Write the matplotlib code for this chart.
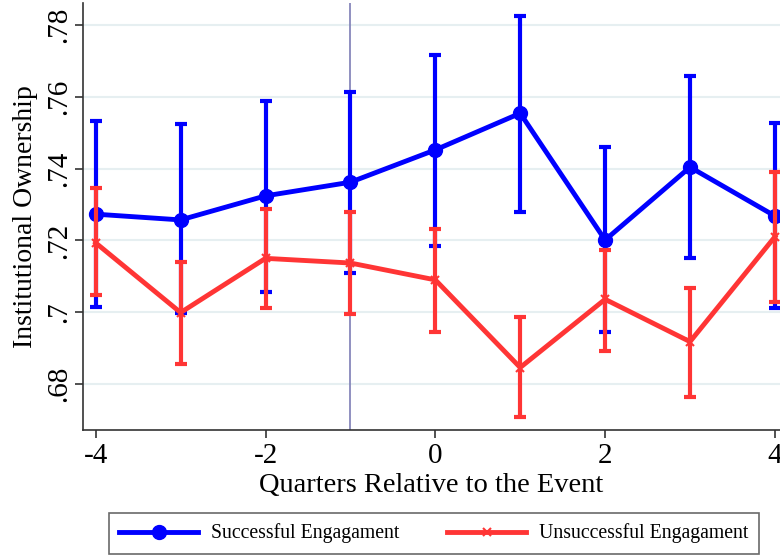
import matplotlib
matplotlib.use("Agg")
import matplotlib.pyplot as plt
import numpy as np

quarters = [-4, -3, -2, -1, 0, 1, 2, 3, 4]
succ_mean = [0.7273, 0.7257, 0.7324, 0.7362, 0.7452, 0.7554, 0.7201, 0.7404, 0.7268]
succ_hi = [0.7533, 0.7523, 0.7589, 0.7613, 0.7716, 0.7826, 0.7461, 0.7658, 0.7526]
succ_lo = [0.7014, 0.6998, 0.7055, 0.7108, 0.7185, 0.7280, 0.6944, 0.7150, 0.7012]
unsucc_mean = [0.7193, 0.6999, 0.7150, 0.7137, 0.7090, 0.6846, 0.7036, 0.6918, 0.7210]
unsucc_hi = [0.7345, 0.7139, 0.7287, 0.7280, 0.7233, 0.6986, 0.7172, 0.7067, 0.7391]
unsucc_lo = [0.7048, 0.6857, 0.7012, 0.6994, 0.6946, 0.6707, 0.6893, 0.6764, 0.7029]
yticks = [0.68, 0.70, 0.72, 0.74, 0.76, 0.78]
ytick_labels = [".68", ".7", ".72", ".74", ".76", ".78"]
xticks = [-4, -2, 0, 2, 4]

plt.rcParams['font.family'] = ['Liberation Serif', 'DejaVu Serif']

fig = plt.figure(figsize=(7.8, 5.56), dpi=100)
ax = fig.add_axes([0.1064, 0.2266, 0.8936, 0.768])

ax.set_xlim(-4.15, 4.06)
ax.set_ylim(0.6672, 0.7861)

for yt in yticks:
    ax.axhline(yt, color='#e6eff1', lw=1.5, zorder=0)
ax.axvline(-1, color='#7d7db5', lw=1.2, zorder=1)

blue = '#0000ff'
red = '#ff3535'

q = np.array(quarters)
sm = np.array(succ_mean)
um = np.array(unsucc_mean)

ax.errorbar(q, sm, yerr=[sm - np.array(succ_lo), np.array(succ_hi) - sm],
            fmt='none', ecolor=blue, elinewidth=3.0, capsize=4.5, capthick=3.0, zorder=2)
l1, = ax.plot(q, sm, color=blue, lw=3.5, marker='o', markersize=10, zorder=3,
              label='Successful Engagament')
ax.errorbar(q, um, yerr=[um - np.array(unsucc_lo), np.array(unsucc_hi) - um],
            fmt='none', ecolor=red, elinewidth=3.0, capsize=4.5, capthick=3.0, zorder=4)
l2, = ax.plot(q, um, color=red, lw=3.5, marker='x', markersize=6, mew=1.5, zorder=5,
              label='Unsuccessful Engagament')

ax.set_yticks(yticks)
ax.set_yticklabels(ytick_labels, rotation=90, va='center')
ax.set_xticks(xticks)
ax.set_xticklabels([str(x) for x in xticks])
ax.tick_params(axis='both', labelsize=21, color='#333333', length=6, width=1.2)
ax.tick_params(axis='y', pad=2)

for s in ['top', 'right']:
    ax.spines[s].set_visible(False)
for s in ['left', 'bottom']:
    ax.spines[s].set_color('#333333')
    ax.spines[s].set_linewidth(1.2)

ax.set_xlabel('Quarters Relative to the Event', fontsize=20.5, labelpad=3)
ax.set_ylabel('Institutional Ownership', fontsize=20, labelpad=6)

leg = fig.legend(handles=[l1, l2], loc='center', bbox_to_anchor=(0.5564, 0.0405),
                 ncol=2, fontsize=14.2, frameon=True, fancybox=False,
                 edgecolor='#444444', handlelength=4.0, columnspacing=2.4,
                 borderpad=0.55, handletextpad=0.67, borderaxespad=0)
leg.get_frame().set_linewidth(1.2)

fig.savefig('out.png', dpi=100)
